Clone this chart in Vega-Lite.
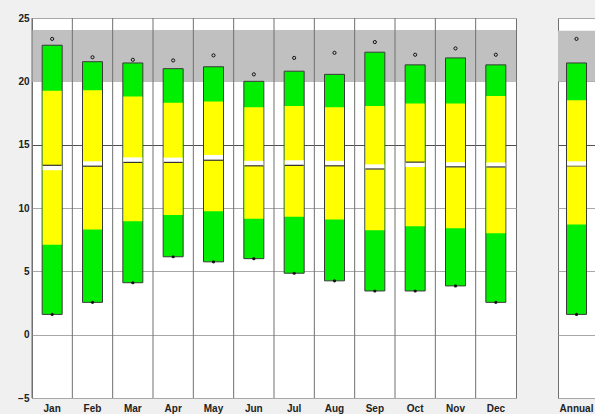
{
  "$schema": "https://vega.github.io/schema/vega-lite/v6.json",
  "background": "#f0f0f0",
  "padding": {"left": 17, "top": 12, "right": 0, "bottom": 0},
  "spacing": 40,
  "config": {
    "view": {"stroke": "#707070", "fill": "white", "strokeWidth": 1},
    "font": "Liberation Sans",
    "axis": {
      "labelFont": "Liberation Sans",
      "labelFontWeight": "bold",
      "labelFontSize": 10,
      "labelColor": "#222222",
      "ticks": false,
      "domain": false,
      "title": null
    }
  },
  "hconcat": [
    {
      "width": 484,
      "height": 380,
      "data": {
        "values": [
          {"month": "Jan", "min": 1.6, "p10": 7.1, "p90": 19.25, "max": 22.85, "mean": 13.18, "median": 13.37, "dot": 23.35},
          {"month": "Feb", "min": 2.55, "p10": 8.3, "p90": 19.3, "max": 21.55, "mean": 13.49, "median": 13.3, "dot": 21.9},
          {"month": "Mar", "min": 4.1, "p10": 8.95, "p90": 18.8, "max": 21.45, "mean": 13.8, "median": 13.6, "dot": 21.7},
          {"month": "Apr", "min": 6.15, "p10": 9.45, "p90": 18.3, "max": 21.0, "mean": 13.78, "median": 13.6, "dot": 21.65},
          {"month": "May", "min": 5.75, "p10": 9.75, "p90": 18.4, "max": 21.15, "mean": 13.99, "median": 13.77, "dot": 22.05},
          {"month": "Jun", "min": 6.0, "p10": 9.15, "p90": 17.95, "max": 20.0, "mean": 13.53, "median": 13.33, "dot": 20.55},
          {"month": "Jul", "min": 4.85, "p10": 9.3, "p90": 18.05, "max": 20.8, "mean": 13.57, "median": 13.37, "dot": 21.85},
          {"month": "Aug", "min": 4.25, "p10": 9.1, "p90": 17.95, "max": 20.55, "mean": 13.53, "median": 13.33, "dot": 22.25},
          {"month": "Sep", "min": 3.45, "p10": 8.25, "p90": 18.05, "max": 22.3, "mean": 13.25, "median": 13.08, "dot": 23.1},
          {"month": "Oct", "min": 3.45, "p10": 8.55, "p90": 18.25, "max": 21.3, "mean": 13.43, "median": 13.62, "dot": 22.1},
          {"month": "Nov", "min": 3.85, "p10": 8.4, "p90": 18.25, "max": 21.85, "mean": 13.42, "median": 13.25, "dot": 22.6},
          {"month": "Dec", "min": 2.55, "p10": 8.0, "p90": 18.85, "max": 21.3, "mean": 13.4, "median": 13.24, "dot": 22.1}
        ]
      },
      "layer": [
        {
          "mark": {"type": "rect", "color": "#c0c0c0"},
          "encoding": {
            "y": {"datum": 20, "type": "quantitative", "scale": {"domain": [-5, 25], "nice": false}},
            "y2": {"datum": 24}
          }
        },
        {
          "mark": {"type": "rule", "color": "#707070", "strokeWidth": 1},
          "encoding": {
            "x": {"field": "month", "type": "nominal", "sort": null, "bandPosition": 0,
                  "axis": {"labelAngle": 0, "labelPadding": 5, "grid": false, "bandPosition": 0.5}}
          }
        },
        {
          "mark": {"type": "bar", "size": 20, "color": "#00ee00", "stroke": "#3a3a3a", "strokeWidth": 1},
          "encoding": {
            "x": {"field": "month", "type": "nominal", "sort": null,
                  "scale": {"paddingInner": 0, "paddingOuter": 0},
                  "axis": {"labelAngle": 0, "labelPadding": 5, "grid": false, "bandPosition": 0.5}},
            "y": {"field": "min", "type": "quantitative",
                  "scale": {"domain": [-5, 25], "nice": false},
                  "axis": {"values": [-5, 0, 5, 10, 15, 20, 25], "labelPadding": 3, "grid": true,
                           "gridColor": {"condition": {"test": "datum.value === 15", "value": "#505050"}, "value": "#a8a8a8"}}},
            "y2": {"field": "max"}
          }
        },
        {
          "mark": {"type": "bar", "size": 19, "color": "#ffff00"},
          "encoding": {
            "x": {"field": "month", "type": "nominal", "sort": null},
            "y": {"field": "p10", "type": "quantitative"},
            "y2": {"field": "p90"}
          }
        },
        {
          "mark": {"type": "tick", "size": 19, "thickness": 5, "color": "white", "opacity": 1},
          "encoding": {
            "x": {"field": "month", "type": "nominal", "sort": null},
            "y": {"field": "mean", "type": "quantitative"}
          }
        },
        {
          "mark": {"type": "tick", "size": 19, "thickness": 1.2, "color": "#333333", "opacity": 1},
          "encoding": {
            "x": {"field": "month", "type": "nominal", "sort": null},
            "y": {"field": "median", "type": "quantitative"}
          }
        },
        {
          "mark": {"type": "point", "filled": false, "size": 10, "stroke": "#111111", "strokeWidth": 1, "opacity": 1},
          "encoding": {
            "x": {"field": "month", "type": "nominal", "sort": null},
            "y": {"field": "dot", "type": "quantitative"}
          }
        },
        {
          "mark": {"type": "point", "filled": true, "size": 10, "color": "#111111", "opacity": 1},
          "encoding": {
            "x": {"field": "month", "type": "nominal", "sort": null},
            "y": {"field": "min", "type": "quantitative"}
          }
        }
      ]
    },
    {
      "width": 37,
      "height": 380,
      "data": {
        "values": [
          {"month": "Annual", "min": 1.6, "p10": 8.7, "p90": 18.5, "max": 21.45, "mean": 13.49, "median": 13.3, "dot": 23.35}
        ]
      },
      "layer": [
        {
          "mark": {"type": "rect", "color": "#c0c0c0"},
          "encoding": {
            "y": {"datum": 20, "type": "quantitative", "scale": {"domain": [-5, 25], "nice": false}},
            "y2": {"datum": 24}
          }
        },
        {
          "mark": {"type": "bar", "size": 20, "color": "#00ee00", "stroke": "#3a3a3a", "strokeWidth": 1},
          "encoding": {
            "x": {"field": "month", "type": "nominal", "sort": null,
                  "scale": {"paddingInner": 0, "paddingOuter": 0},
                  "axis": {"labelAngle": 0, "labelPadding": 5, "grid": false}},
            "y": {"field": "min", "type": "quantitative",
                  "scale": {"domain": [-5, 25], "nice": false},
                  "axis": {"values": [-5, 0, 5, 10, 15, 20, 25], "labels": false, "grid": true,
                           "gridColor": {"condition": {"test": "datum.value === 15", "value": "#505050"}, "value": "#a8a8a8"}}},
            "y2": {"field": "max"}
          }
        },
        {
          "mark": {"type": "bar", "size": 19, "color": "#ffff00"},
          "encoding": {
            "x": {"field": "month", "type": "nominal", "sort": null},
            "y": {"field": "p10", "type": "quantitative"},
            "y2": {"field": "p90"}
          }
        },
        {
          "mark": {"type": "tick", "size": 19, "thickness": 5, "color": "white", "opacity": 1},
          "encoding": {
            "x": {"field": "month", "type": "nominal", "sort": null},
            "y": {"field": "mean", "type": "quantitative"}
          }
        },
        {
          "mark": {"type": "tick", "size": 19, "thickness": 1.2, "color": "#8a8a40", "opacity": 1},
          "encoding": {
            "x": {"field": "month", "type": "nominal", "sort": null},
            "y": {"field": "median", "type": "quantitative"}
          }
        },
        {
          "mark": {"type": "point", "filled": false, "size": 10, "stroke": "#111111", "strokeWidth": 1, "opacity": 1},
          "encoding": {
            "x": {"field": "month", "type": "nominal", "sort": null},
            "y": {"field": "dot", "type": "quantitative"}
          }
        },
        {
          "mark": {"type": "point", "filled": true, "size": 10, "color": "#111111", "opacity": 1},
          "encoding": {
            "x": {"field": "month", "type": "nominal", "sort": null},
            "y": {"field": "min", "type": "quantitative"}
          }
        }
      ]
    }
  ]
}
